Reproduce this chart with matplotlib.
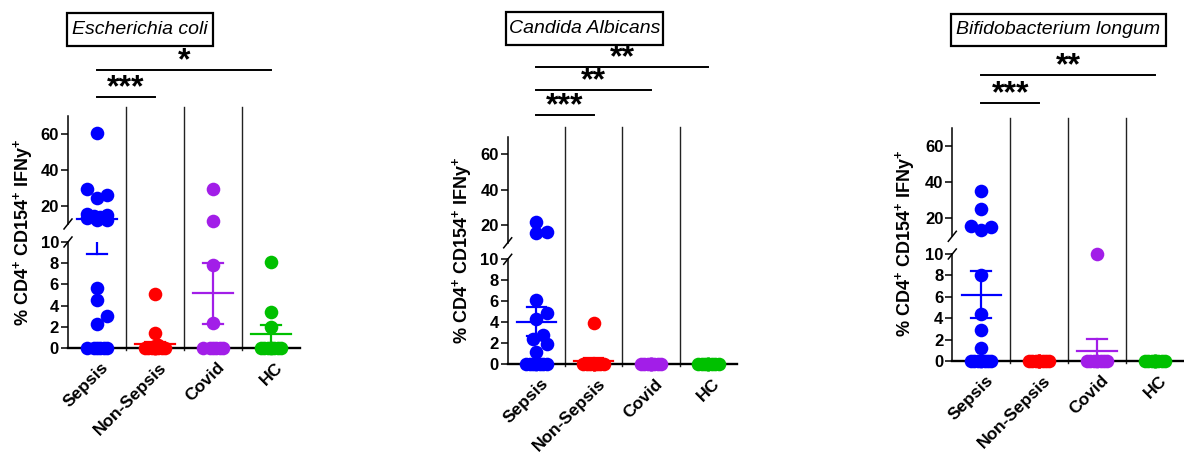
import numpy as np
import matplotlib.pyplot as plt
from matplotlib.patches import Rectangle
from matplotlib.transforms import blended_transform_factory, ScaledTranslation

plt.rcParams['font.family'] = ['Liberation Sans', 'DejaVu Sans']
plt.rcParams['mathtext.fontset'] = 'custom'
plt.rcParams['mathtext.rm'] = 'Liberation Sans:bold'
plt.rcParams['mathtext.it'] = 'Liberation Sans:italic:bold'
plt.rcParams['mathtext.bf'] = 'Liberation Sans:bold'

W, H = 1184, 453

groups = ['Sepsis', 'Non-Sepsis', 'Covid', 'HC']
colors = ['#0000FF', '#FF0000', '#A21EE8', '#00C000']
ylabel = r'% CD4$^{+}$ CD154$^{+}$ IFNy$^{+}$'

# % CD4+ CD154+ IFNy+ cells per patient
ecoli_sepsis = [60.5, 29.2, 26.0, 24.7, 15.6, 15.0, 14.4, 13.8, 13.2, 12.5, 12.0,
                5.7, 4.5, 3.0, 2.3, 0, 0, 0, 0, 0, 0]
ecoli_nonsepsis = [5.1, 1.4, 0.3, 0.2, 0, 0, 0, 0, 0, 0, 0, 0, 0]
ecoli_covid = [29.3, 11.6, 7.8, 2.4, 0, 0, 0, 0, 0, 0]
ecoli_hc = [8.1, 3.4, 2.0, 0, 0, 0, 0, 0, 0, 0, 0]
ecoli_mean = [12.6, 0.35, 5.15, 1.3]
ecoli_sem = [3.7, 0.25, 2.9, 0.9]
ecoli_sig = [((0, 1), '***'), ((0, 3), '*')]

candida_sepsis = [22.0, 16.0, 15.4, 6.1, 4.9, 4.3, 2.8, 2.4, 1.9, 1.2,
                  0, 0, 0, 0, 0, 0, 0, 0]
candida_nonsepsis = [3.9, 0, 0, 0, 0, 0, 0, 0, 0, 0, 0, 0]
candida_covid = [0, 0, 0, 0, 0, 0, 0, 0, 0, 0]
candida_hc = [0, 0, 0, 0, 0, 0, 0, 0, 0, 0]
candida_mean = [4.06, 0.3, 0, 0]
candida_sem = [1.37, 0.3, 0, 0]
candida_sig = [((0, 1), '***'), ((0, 2), '**'), ((0, 3), '**')]

bifido_sepsis = [35.0, 25.3, 15.7, 15.0, 13.6, 8.0, 4.4, 2.9, 1.25,
                 0, 0, 0, 0, 0, 0, 0, 0]
bifido_nonsepsis = [0, 0, 0, 0, 0, 0, 0, 0, 0, 0, 0, 0]
bifido_covid = [10.0, 0, 0, 0, 0, 0, 0, 0, 0]
bifido_hc = [0, 0, 0, 0, 0, 0, 0, 0, 0, 0]
bifido_mean = [6.2, 0, 0.98, 0]
bifido_sem = [2.2, 0, 1.05, 0]
bifido_sig = [((0, 1), '***'), ((0, 3), '**')]

# panel geometry in pixels (y measured from the top of the figure)
panels = [
    dict(title='Escherichia coli',
         data=[ecoli_sepsis, ecoli_nonsepsis, ecoli_covid, ecoli_hc],
         mean=ecoli_mean, sem=ecoli_sem, sig=ecoli_sig, sig_y=[97.3, 70],
         left=68, right=300, base=348, low_top=242, up_bot=224, up_top=116,
         sep_top=107, box=(66.7, 12.7, 213, 45.7), ylab=(23, 232)),
    dict(title='Candida Albicans',
         data=[candida_sepsis, candida_nonsepsis, candida_covid, candida_hc],
         mean=candida_mean, sem=candida_sem, sig=candida_sig, sig_y=[115, 90, 67.3],
         left=507.7, right=737, base=364.3, low_top=259.3, up_bot=242.8, up_top=136.5,
         sep_top=127, box=(506, 12.3, 663.3, 45), ylab=(461.7, 250)),
    dict(title='Bifidobacterium longum',
         data=[bifido_sepsis, bifido_nonsepsis, bifido_covid, bifido_hc],
         mean=bifido_mean, sem=bifido_sem, sig=bifido_sig, sig_y=[103.3, 75.3],
         left=952.3, right=1184, base=361, low_top=254, up_bot=236.3, up_top=127.7,
         sep_top=117.5, box=(951, 14, 1166, 46), ylab=(905, 243)),
]

MS = 9.8          # marker size (pt)
DIAM = MS * 100 / 72
WMAX = 13.0       # max horizontal spread of a column (px)


def fx(px):
    return px / W


def fy(py):
    return 1 - py / H


def swarm(values, xpx, ly, uy, gap):
    """Horizontal offsets (data units) so that points sit side by side."""
    ypx = [v * ly if v <= 10 else 10 * ly + gap + (v - 10) * uy for v in values]
    step = DIAM / 4
    cands = [0.0]
    k = 1
    while k * step <= WMAX + 1e-6:
        cands += [k * step, -k * step]
        k += 1
    placed = []
    offs = np.zeros(len(values))
    for i in np.argsort(ypx, kind='stable'):
        best, best_d = 0.0, -1.0
        for c in cands:
            dmin = min([np.hypot(c - px, ypx[i] - py) for px, py in placed], default=np.inf)
            if dmin >= DIAM * 0.85:
                best = c
                break
            if dmin > best_d:
                best_d, best = dmin, c
        placed.append((best, ypx[i]))
        offs[i] = best / xpx
    return offs


fig = plt.figure(figsize=(W / 100, H / 100), dpi=100)

for p in panels:
    width = p['right'] - p['left']
    lo = fig.add_axes([fx(p['left']), fy(p['base']), width / W, (p['base'] - p['low_top']) / H])
    hi = fig.add_axes([fx(p['left']), fy(p['up_bot']), width / W, (p['up_bot'] - p['up_top']) / H])
    lo.set_ylim(0, 10)
    hi.set_ylim(10, 70)
    lo.set_yticks([0, 2, 4, 6, 8, 10])
    hi.set_yticks([20, 40, 60])
    for ax in (lo, hi):
        ax.set_xlim(-0.5, 3.5)
        ax.patch.set_visible(False)
        ax.spines[['top', 'right']].set_visible(False)
        ax.spines['left'].set_linewidth(1.1)
        ax.tick_params(axis='y', length=5, width=1.1, pad=1.5, labelsize=12)
        for t in ax.get_yticklabels():
            t.set_fontweight('bold')
    hi.spines['bottom'].set_visible(False)
    hi.set_xticks([])
    lo.spines['bottom'].set_linewidth(1.7)
    lo.set_xticks(range(4))
    lo.set_xticklabels(groups, rotation=45, ha='right', va='top', rotation_mode='anchor',
                       fontsize=12.5, fontweight='bold')
    lo.tick_params(axis='x', length=3, width=1.1, pad=5.5)
    for t in lo.get_xticklabels():
        t.set_transform(t.get_transform() + ScaledTranslation(4 / 100, 0, fig.dpi_scale_trans))

    xpx = width / 4
    ly = (p['base'] - p['low_top']) / 10
    uy = (p['up_bot'] - p['up_top']) / 60
    gap = p['low_top'] - p['up_bot']

    for i, vals in enumerate(p['data']):
        vals = np.asarray(vals, dtype=float)
        xs = i + swarm(vals, xpx, ly, uy, gap)
        low = vals <= 10
        lo.plot(xs[low], vals[low], 'o', ms=MS, mew=0, color=colors[i], clip_on=False, zorder=3)
        hi.plot(xs[~low], vals[~low], 'o', ms=MS, mew=0, color=colors[i], clip_on=False, zorder=3)

        m, s = p['mean'][i], p['sem'][i]
        if m == 0:
            continue
        for ax in (lo, hi):
            ax.plot([i - 0.34, i + 0.34], [m, m], color=colors[i], lw=1.6, zorder=4)
            ax.plot([i, i], [m - s, m + s], color=colors[i], lw=1.6, zorder=4)
            for e in (m - s, m + s):
                ax.plot([i - 0.17, i + 0.17], [e, e], color=colors[i], lw=1.6, zorder=4)

    # column separators and significance brackets, x in data, y in figure fraction
    tr = blended_transform_factory(lo.transData, fig.transFigure)
    for xs in (0.5, 1.5, 2.5):
        lo.plot([xs, xs], [fy(p['base'] + 2), fy(p['sep_top'])], transform=tr,
                color='#222222', lw=1.0, clip_on=False, zorder=1)
    for ((a, b), stars), yb in zip(p['sig'], p['sig_y']):
        lo.plot([a, b], [fy(yb), fy(yb)], transform=tr, color='k', lw=1.4, clip_on=False)
        lo.text((a + b) / 2, fy(yb - 1), stars, transform=tr, ha='center', va='baseline',
                fontsize=23, fontweight='bold')

    # axis break marks
    for py in (p['low_top'], p['up_bot']):
        fig.add_artist(plt.Line2D([fx(p['left'] - 4), fx(p['left'] + 4)],
                                  [fy(py + 5), fy(py - 5)], color='k', lw=1.1))

    # title box
    x0, y0, x1, y1 = p['box']
    fig.add_artist(Rectangle((fx(x0), fy(y1)), (x1 - x0) / W, (y1 - y0) / H,
                             transform=fig.transFigure, fill=False, ec='k', lw=1.6))
    fig.text(fx((x0 + x1) / 2), fy((y0 + y1) / 2), p['title'], ha='center', va='center',
             fontsize=14, style='italic')

    fig.text(fx(p['ylab'][0]), fy(p['ylab'][1]), ylabel, rotation=90,
             ha='center', va='center', fontsize=13, fontweight='bold')

fig.savefig('out.png', dpi=100)
